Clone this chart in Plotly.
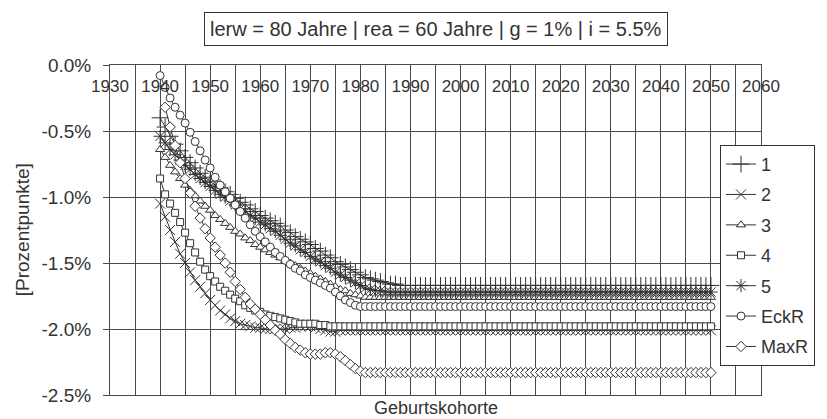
import plotly.graph_objects as go

years = list(range(1940, 2051))

s1 = [
    -0.40, -0.47, -0.54, -0.60, -0.65, -0.70, -0.74, -0.78, -0.82, -0.85,
    -0.88, -0.91, -0.93, -0.96, -0.98, -1.01, -1.04, -1.06, -1.09, -1.11,
    -1.14, -1.16, -1.18, -1.20, -1.22, -1.25, -1.27, -1.30, -1.32, -1.34,
    -1.36, -1.39, -1.41, -1.44, -1.46, -1.49, -1.51, -1.53, -1.55, -1.57,
    -1.59, -1.61, -1.62, -1.63, -1.64, -1.65, -1.66, -1.66, -1.67, -1.67,
    -1.67, -1.67, -1.67, -1.67, -1.67, -1.67, -1.67, -1.67, -1.67, -1.67,
    -1.67, -1.67, -1.67, -1.67, -1.67, -1.67, -1.67, -1.67, -1.67, -1.67,
    -1.67, -1.67, -1.67, -1.67, -1.67, -1.67, -1.67, -1.67, -1.67, -1.67,
    -1.67, -1.67, -1.67, -1.67, -1.67, -1.67, -1.67, -1.67, -1.67, -1.67,
    -1.67, -1.67, -1.67, -1.67, -1.67, -1.67, -1.67, -1.67, -1.67, -1.67,
    -1.67, -1.67, -1.67, -1.67, -1.67, -1.67, -1.67, -1.67, -1.67, -1.67,
    -1.67,
]

s2 = [
    -1.05, -1.15, -1.25, -1.34, -1.43, -1.50, -1.57, -1.63, -1.68, -1.73,
    -1.78, -1.82, -1.86, -1.89, -1.92, -1.94, -1.96, -1.97, -1.98, -1.99,
    -1.99, -2.00, -2.00, -2.00, -2.00, -2.00, -1.99, -1.99, -1.98, -1.98,
    -1.98, -1.99, -2.00, -2.01, -2.02, -2.02, -2.01, -2.01, -2.01, -2.01,
    -2.01, -2.01, -2.01, -2.01, -2.01, -2.01, -2.01, -2.01, -2.01, -2.01,
    -2.01, -2.01, -2.01, -2.01, -2.01, -2.01, -2.01, -2.01, -2.01, -2.01,
    -2.01, -2.01, -2.01, -2.01, -2.01, -2.01, -2.01, -2.01, -2.01, -2.01,
    -2.01, -2.01, -2.01, -2.01, -2.01, -2.01, -2.01, -2.01, -2.01, -2.01,
    -2.01, -2.01, -2.01, -2.01, -2.01, -2.01, -2.01, -2.01, -2.01, -2.01,
    -2.01, -2.01, -2.01, -2.01, -2.01, -2.01, -2.01, -2.01, -2.01, -2.01,
    -2.01, -2.01, -2.01, -2.01, -2.01, -2.01, -2.01, -2.01, -2.01, -2.01,
    -2.01,
]

s3 = [
    -0.64, -0.70, -0.76, -0.81, -0.86, -0.91, -0.95, -0.99, -1.03, -1.07,
    -1.10, -1.14, -1.17, -1.20, -1.23, -1.26, -1.28, -1.31, -1.33, -1.36,
    -1.38, -1.40, -1.42, -1.44, -1.46, -1.48, -1.50, -1.52, -1.54, -1.56,
    -1.58, -1.60, -1.62, -1.64, -1.66, -1.68, -1.70, -1.71, -1.73, -1.74,
    -1.75, -1.76, -1.76, -1.76, -1.76, -1.76, -1.76, -1.76, -1.76, -1.76,
    -1.76, -1.76, -1.76, -1.76, -1.76, -1.76, -1.76, -1.76, -1.76, -1.76,
    -1.76, -1.76, -1.76, -1.76, -1.76, -1.76, -1.76, -1.76, -1.76, -1.76,
    -1.76, -1.76, -1.76, -1.76, -1.76, -1.76, -1.76, -1.76, -1.76, -1.76,
    -1.76, -1.76, -1.76, -1.76, -1.76, -1.76, -1.76, -1.76, -1.76, -1.76,
    -1.76, -1.76, -1.76, -1.76, -1.76, -1.76, -1.76, -1.76, -1.76, -1.76,
    -1.76, -1.76, -1.76, -1.76, -1.76, -1.76, -1.76, -1.76, -1.76, -1.76,
    -1.76,
]

s4 = [
    -0.86, -0.98, -1.05, -1.12, -1.19, -1.27, -1.35, -1.42, -1.49, -1.55,
    -1.60, -1.64, -1.68, -1.71, -1.74, -1.77, -1.79, -1.82, -1.84, -1.86,
    -1.87, -1.89, -1.90, -1.91, -1.92, -1.93, -1.94, -1.95, -1.96, -1.96,
    -1.96, -1.96, -1.97, -1.97, -1.98, -1.98, -1.98, -1.98, -1.98, -1.98,
    -1.98, -1.98, -1.98, -1.98, -1.98, -1.98, -1.98, -1.98, -1.98, -1.98,
    -1.98, -1.98, -1.98, -1.98, -1.98, -1.98, -1.98, -1.98, -1.98, -1.98,
    -1.98, -1.98, -1.98, -1.98, -1.98, -1.98, -1.98, -1.98, -1.98, -1.98,
    -1.98, -1.98, -1.98, -1.98, -1.98, -1.98, -1.98, -1.98, -1.98, -1.98,
    -1.98, -1.98, -1.98, -1.98, -1.98, -1.98, -1.98, -1.98, -1.98, -1.98,
    -1.98, -1.98, -1.98, -1.98, -1.98, -1.98, -1.98, -1.98, -1.98, -1.98,
    -1.98, -1.98, -1.98, -1.98, -1.98, -1.98, -1.98, -1.98, -1.98, -1.98,
    -1.98,
]

s5 = [
    -0.54, -0.59, -0.64, -0.68, -0.72, -0.76, -0.79, -0.83, -0.86, -0.89,
    -0.92, -0.95, -0.98, -1.00, -1.03, -1.06, -1.09, -1.11, -1.14, -1.16,
    -1.19, -1.21, -1.24, -1.26, -1.29, -1.32, -1.35, -1.37, -1.40, -1.42,
    -1.45, -1.47, -1.49, -1.52, -1.54, -1.57, -1.59, -1.61, -1.63, -1.65,
    -1.67, -1.69, -1.70, -1.71, -1.71, -1.72, -1.72, -1.72, -1.72, -1.72,
    -1.72, -1.72, -1.72, -1.72, -1.72, -1.72, -1.72, -1.72, -1.72, -1.72,
    -1.72, -1.72, -1.72, -1.72, -1.72, -1.72, -1.72, -1.72, -1.72, -1.72,
    -1.72, -1.72, -1.72, -1.72, -1.72, -1.72, -1.72, -1.72, -1.72, -1.72,
    -1.72, -1.72, -1.72, -1.72, -1.72, -1.72, -1.72, -1.72, -1.72, -1.72,
    -1.72, -1.72, -1.72, -1.72, -1.72, -1.72, -1.72, -1.72, -1.72, -1.72,
    -1.72, -1.72, -1.72, -1.72, -1.72, -1.72, -1.72, -1.72, -1.72, -1.72,
    -1.72,
]

eckr = [
    -0.08, -0.17, -0.25, -0.32, -0.38, -0.44, -0.51, -0.58, -0.65, -0.72,
    -0.78, -0.85, -0.91, -0.96, -1.01, -1.06, -1.11, -1.16, -1.21, -1.26,
    -1.30, -1.34, -1.38, -1.42, -1.45, -1.48, -1.51, -1.54, -1.56, -1.59,
    -1.61, -1.63, -1.65, -1.67, -1.69, -1.72, -1.75, -1.78, -1.80, -1.82,
    -1.83, -1.83, -1.83, -1.83, -1.83, -1.83, -1.83, -1.83, -1.83, -1.83,
    -1.83, -1.83, -1.83, -1.83, -1.83, -1.83, -1.83, -1.83, -1.83, -1.83,
    -1.83, -1.83, -1.83, -1.83, -1.83, -1.83, -1.83, -1.83, -1.83, -1.83,
    -1.83, -1.83, -1.83, -1.83, -1.83, -1.83, -1.83, -1.83, -1.83, -1.83,
    -1.83, -1.83, -1.83, -1.83, -1.83, -1.83, -1.83, -1.83, -1.83, -1.83,
    -1.83, -1.83, -1.83, -1.83, -1.83, -1.83, -1.83, -1.83, -1.83, -1.83,
    -1.83, -1.83, -1.83, -1.83, -1.83, -1.83, -1.83, -1.83, -1.83, -1.83,
    -1.83,
]

maxr = [
    None, -0.32, -0.47, -0.61, -0.74, -0.86, -0.97, -1.07, -1.16, -1.24,
    -1.31, -1.38, -1.44, -1.50, -1.57, -1.64, -1.70, -1.76, -1.81, -1.85,
    -1.89, -1.93, -1.97, -2.01, -2.04, -2.08, -2.11, -2.14, -2.16, -2.18,
    -2.19, -2.19, -2.19, -2.18, -2.18, -2.19, -2.21, -2.24, -2.27, -2.30,
    -2.32, -2.33, -2.33, -2.33, -2.33, -2.33, -2.33, -2.33, -2.33, -2.33,
    -2.33, -2.33, -2.33, -2.33, -2.33, -2.33, -2.33, -2.33, -2.33, -2.33,
    -2.33, -2.33, -2.33, -2.33, -2.33, -2.33, -2.33, -2.33, -2.33, -2.33,
    -2.33, -2.33, -2.33, -2.33, -2.33, -2.33, -2.33, -2.33, -2.33, -2.33,
    -2.33, -2.33, -2.33, -2.33, -2.33, -2.33, -2.33, -2.33, -2.33, -2.33,
    -2.33, -2.33, -2.33, -2.33, -2.33, -2.33, -2.33, -2.33, -2.33, -2.33,
    -2.33, -2.33, -2.33, -2.33, -2.33, -2.33, -2.33, -2.33, -2.33, -2.33,
    -2.33,
]

series_names = ["1", "2", "3", "4", "5", "EckR", "MaxR"]
series_values = [s1, s2, s3, s4, s5, eckr, maxr]

x_tick_vals = [1930, 1940, 1950, 1960, 1970, 1980, 1990, 2000, 2010, 2020, 2030, 2040, 2050, 2060]
x_tick_text = ["1930", "1940", "1950", "1960", "1970", "1980", "1990", "2000", "2010", "2020", "2030", "2040", "2050", "2060"]
y_tick_vals = [0, -0.5, -1.0, -1.5, -2.0, -2.5]
y_tick_text = ["0.0%", "-0.5%", "-1.0%", "-1.5%", "-2.0%", "-2.5%"]

title_text = "lerw = 80 Jahre | rea = 60 Jahre | g = 1% | i = 5.5%"
x_title = "Geburtskohorte"
y_title = "[Prozentpunkte]"

INK = "#333333"
GRID = "#4a4a4a"
FONT = "Liberation Sans, Arial, sans-serif"

styles = [
    dict(symbol="cross-thin", size=12, color=INK, line=dict(color=INK, width=1)),
    dict(symbol="x-thin", size=10, color=INK, line=dict(color=INK, width=1)),
    dict(symbol="triangle-up", size=8, color="white", line=dict(color=INK, width=1)),
    dict(symbol="square", size=7, color="white", line=dict(color=INK, width=1)),
    dict(symbol="asterisk", size=11, color=INK, line=dict(color=INK, width=1)),
    dict(symbol="circle", size=8, color="white", line=dict(color=INK, width=1)),
    dict(symbol="diamond", size=8, color="white", line=dict(color=INK, width=1)),
]

fig = go.Figure()
for name, vals, mk in zip(series_names, series_values, styles):
    fig.add_trace(go.Scatter(
        x=years, y=vals, name=name, mode="lines+markers",
        line=dict(color=INK, width=1),
        marker=mk,
        legendgroup=name,
        connectgaps=False,
    ))

fig.update_layout(
    width=827, height=419, autosize=False,
    margin=dict(l=110, r=64, t=65, b=24),
    paper_bgcolor="white", plot_bgcolor="white",
    font=dict(family=FONT, color=INK, size=18),
    showlegend=True,
    legend=dict(
        x=0.937, y=0.758, xanchor="left", yanchor="top",
        bgcolor="white", bordercolor=INK, borderwidth=1,
        font=dict(family=FONT, size=18, color=INK),
        tracegroupgap=4, itemwidth=30,
    ),
    xaxis=dict(
        range=[1930, 2060], side="top",
        tickvals=x_tick_vals, ticktext=x_tick_text,
        ticklabelposition="inside", ticks="", ticklabelstandoff=16,
        ticklabeloverflow="allow",
        tickfont=dict(size=17, family=FONT, color=INK),
        showgrid=True, gridcolor=GRID, gridwidth=1,
        minor=dict(dtick=5, tick0=1930, showgrid=True, gridcolor=GRID, gridwidth=1),
        showline=True, linecolor=GRID, linewidth=1, mirror=True,
        zeroline=False,
    ),
    yaxis=dict(
        range=[-2.5, 0],
        tickvals=y_tick_vals, ticktext=y_tick_text,
        ticks="outside", ticklen=6, tickcolor=GRID, ticklabelstandoff=8,
        ticklabeloverflow="allow",
        tickfont=dict(size=19, family=FONT, color=INK),
        showgrid=True, gridcolor=GRID, gridwidth=1,
        showline=True, linecolor=GRID, linewidth=1, mirror=True,
        zeroline=False,
    ),
    annotations=[
        dict(text=title_text, x=0.5, y=1.1106, xref="paper", yref="paper",
             xanchor="center", yanchor="middle", showarrow=False,
             font=dict(size=20, family=FONT, color=INK),
             bordercolor=INK, borderwidth=1, borderpad=5, bgcolor="white"),
        dict(text=x_title, x=0.5, y=-0.04, xref="paper", yref="paper",
             xanchor="center", yanchor="middle", showarrow=False,
             font=dict(size=18, family=FONT, color=INK)),
        dict(text=y_title, x=-0.1348, y=0.5, xref="paper", yref="paper",
             xanchor="center", yanchor="middle", showarrow=False, textangle=-90,
             font=dict(size=19, family=FONT, color=INK)),
    ],
)

fig.write_html("out.html", config={"displayModeBar": False},
               post_script="document.body.style.margin='0';")
